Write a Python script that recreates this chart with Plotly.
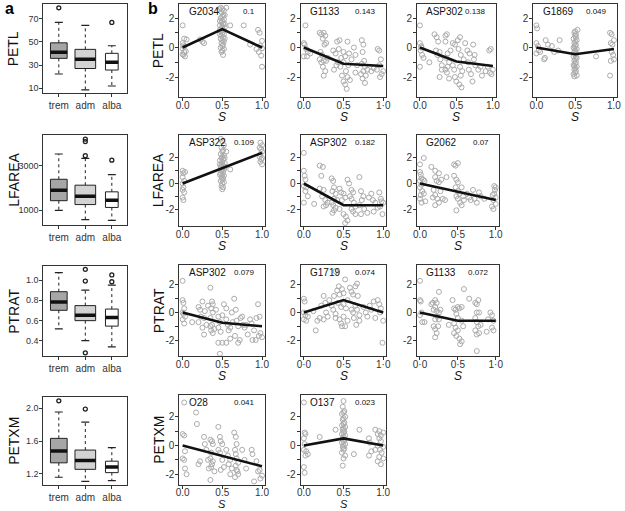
import plotly.graph_objects as go

W, H = 625, 511
FONT = "Liberation Sans, Arial, Helvetica, sans-serif"

# ---------------- Panel a: box plot summaries ----------------
groups = ["trem", "adm", "alba"]
group_width = [0.63, 0.78, 0.48]
group_fill = ["#a6a6a6", "#d3d3d3", "#ffffff"]

petl_low = [22.3, 8.6, 12.0]
petl_q1 = [35.7, 27.0, 25.7]
petl_med = [40.9, 34.9, 32.3]
petl_q3 = [49.0, 43.4, 40.0]
petl_high = [66.5, 64.0, 46.5]
petl_out = [[79.0], [], [66.5]]

lfarea_low = [980, 570, 530]
lfarea_q1 = [1420, 1245, 1115]
lfarea_med = [1892, 1620, 1445]
lfarea_q3 = [2387, 2120, 1820]
lfarea_high = [3527, 3330, 2600]
lfarea_out = [[], [4200, 4090, 3450], [3250]]

ptrat_low = [0.52, 0.403, 0.342]
ptrat_q1 = [0.702, 0.600, 0.546]
ptrat_med = [0.784, 0.652, 0.632]
ptrat_q3 = [0.885, 0.748, 0.714]
ptrat_high = [1.072, 0.900, 0.950]
ptrat_out = [[], [1.105, 0.99, 0.283], [1.05, 0.983]]

petxm_low = [1.16, 1.11, 1.12]
petxm_q1 = [1.335, 1.256, 1.216]
petxm_med = [1.48, 1.364, 1.283]
petxm_q3 = [1.632, 1.49, 1.355]
petxm_high = [1.952, 1.83, 1.52]
petxm_out = [[2.087], [1.988], []]

# ---------------- Panel b: scatter data (S, effect) ----------------
S_fit = [0, 0.5, 1]

petl_g2034 = [(0,1.5),(0.02,0.6),(0.05,0.55),(0,0.3),(0.01,0.15),(0,-0.05),(0.02,-0.3),(0,-0.45),(0.03,-0.6),(0.01,-0.5),(0.04,-0.25),(0.02,0.05),
    (0.22,0.55),(0.25,0.4),(0.27,0.3),
    (0.48,2.7),(0.5,2.6),(0.52,2.5),(0.49,2.4),(0.51,2.2),(0.5,2.1),(0.48,2.0),(0.52,1.9),(0.5,1.8),(0.49,1.7),(0.51,1.6),(0.47,1.5),(0.5,1.4),(0.53,1.35),
    (0.49,1.3),(0.51,1.2),(0.48,1.1),(0.5,1.0),(0.52,0.9),(0.49,0.8),(0.51,0.7),(0.48,0.6),(0.5,0.5),(0.52,0.4),(0.49,0.3),(0.51,0.2),(0.5,0.1),
    (0.48,0.0),(0.52,-0.1),(0.5,-0.2),(0.49,-0.3),(0.51,-0.5),(0.47,1.8),(0.53,2.2),(0.47,0.9),(0.53,0.6),(0.55,2.7),(0.46,2.6),(0.53,1.6),(0.47,1.2),
    (0.6,1.5),(0.77,1.5),(0.85,0.2),(0.95,1.2),(0.97,1.0),(1.0,0.45),(0.98,0.1),(1.0,-0.05),(0.96,-0.3),(0.99,-0.55),(1.0,-1.3),(0.93,-0.1)]
petl_g2034_fit = [0, 1.25, 0]

petl_g1133 = [(0.02,1.5),(0,0.3),(0.01,0.2),(0.03,-0.1),(0.05,-0.3),(0,-0.6),(0.04,-0.6),(0.08,-0.4),
    (0.2,1.0),(0.22,0.9),(0.25,1.0),(0.27,0.8),(0.24,0.6),(0.28,0.3),(0.26,0.2),(0.21,-0.3),(0.23,-0.5),(0.2,-0.8),(0.25,-0.9),(0.22,-1.0),(0.28,-0.9),(0.24,-1.3),(0.27,-1.6),(0.25,-1.9),(0.3,-0.7),
    (0.37,-0.2),(0.4,-0.4),(0.42,0.4),(0.45,0.5),(0.44,-0.1),(0.38,-1.5),(0.41,-1.2),(0.43,-1.0),(0.46,-1.3),(0.47,-0.7),
    (0.5,-0.3),(0.52,-0.6),(0.55,0.4),(0.57,-0.4),(0.5,-1.0),(0.53,-1.6),(0.55,-2.0),(0.5,-2.3),(0.52,-2.5),(0.54,-2.8),(0.48,-1.9),(0.56,-1.2),(0.6,-0.8),(0.58,-2.2),
    (0.63,0.0),(0.65,-0.5),(0.67,-1.2),(0.65,-1.7),
    (0.73,0.5),(0.75,0.2),(0.74,-0.3),(0.76,-0.9),(0.73,-1.1),(0.77,-1.3),(0.75,-1.6),(0.78,-1.9),(0.74,-2.1),(0.77,-2.4),(0.8,-1.5),(0.72,-1.8),
    (0.85,-1.6),(0.88,-1.4),(0.93,-0.1),(0.95,-0.2),(0.97,-0.8),(0.95,-1.2),(0.98,-1.8),(0.96,-2.0),(1.0,-1.6),(0.92,-1.5)]
petl_g1133_fit = [0, -1.1, -1.25]

petl_asp302 = [(0,1.5),(0,0.3),(0.02,0.1),(0.01,-0.2),(0.03,-0.5),(0.05,-0.7),(0,-1.3),(0.02,0.0),
    (0.13,-1.0),(0.2,0.9),(0.23,0.7),(0.25,0.4),(0.22,-0.2),(0.24,-0.5),(0.27,-0.3),(0.28,-0.8),(0.3,-1.2),(0.27,-2.0),(0.3,-1.5),
    (0.35,0.8),(0.37,0.9),(0.35,0.4),(0.38,-0.4),(0.36,-0.7),(0.4,-1.0),(0.38,-1.3),(0.37,-1.7),(0.4,-2.1),(0.35,-1.5),(0.42,-0.2),
    (0.45,0.3),(0.48,0.2),(0.45,-1.2),(0.47,-1.5),(0.5,-2.3),(0.48,-2.0),
    (0.52,0.5),(0.55,0.7),(0.53,-0.1),(0.56,-0.5),(0.55,-1.3),(0.58,-1.6),(0.56,-1.9),(0.54,-2.5),(0.57,-2.7),(0.6,-0.8),(0.62,0.3),
    (0.65,-0.2),(0.68,-0.4),(0.66,-1.0),(0.67,-1.5),(0.7,-1.8),(0.72,-2.3),
    (0.73,0.2),(0.75,-0.5),(0.74,-0.8),(0.76,-1.2),(0.8,-1.5),(0.83,-1.3),(0.85,-1.9),
    (0.9,-1.6),(0.93,-1.3),(0.95,-0.2),(0.97,-0.1),(0.96,-1.7),(0.98,-1.8),(1.0,-1.5)]
petl_asp302_fit = [0, -0.95, -1.25]

petl_g1869 = [(0,1.5),(0.01,1.3),(0,0.3),(0.02,0.1),(0.03,-0.2),(0,-0.4),(0.05,-0.3),(0.1,-0.8),(0.11,-0.7),(0.12,0.5),(0.15,0.2),(0.2,0.1),(0.23,-0.3),(0.3,0.5),(0.28,-0.2),
    (0.53,1.2),(0.5,1.1),(0.49,1.0),(0.51,0.9),(0.5,0.8),(0.48,0.6),(0.52,0.5),(0.5,0.4),(0.49,0.3),(0.51,0.2),(0.5,0.1),(0.48,0.0),(0.52,-0.1),
    (0.5,-0.2),(0.49,-0.3),(0.51,-0.4),(0.5,-0.5),(0.48,-0.6),(0.52,-0.7),(0.5,-0.8),(0.49,-0.9),(0.51,-1.0),(0.5,-1.1),(0.48,-1.2),(0.52,-1.3),
    (0.5,-1.4),(0.49,-1.5),(0.51,-1.6),(0.5,-1.7),(0.48,-1.8),(0.52,-1.9),(0.49,-1.95),(0.51,0.7),(0.49,-0.05),(0.51,-0.65),(0.49,-1.25),
    (0.77,-0.6),(0.95,1.0),(0.97,0.9),(0.96,0.3),(0.98,0.2),(0.97,-0.3),(0.99,-0.5),(1.0,-0.8),(0.96,-0.9),(0.95,-1.9),(1.0,0.5)]
petl_g1869_fit = [0, -0.45, -0.1]

lfarea_asp322 = [(0,1.0),(0.01,0.8),(0,0.5),(0.02,0.2),(0,0.0),(0.01,-0.3),(0,-0.5),(0.02,-0.7),(0,-1.1),(0.01,-1.3),(0.03,0.9),
    (0.48,3.5),(0.5,3.3),(0.52,3.0),(0.49,2.8),(0.51,2.6),(0.5,2.5),(0.48,2.3),(0.52,2.2),(0.5,2.1),(0.49,2.0),(0.51,1.9),(0.47,1.8),(0.5,1.7),
    (0.53,1.6),(0.49,1.5),(0.51,1.4),(0.48,1.3),(0.5,1.2),(0.52,1.1),(0.49,1.0),(0.51,0.9),(0.48,0.8),(0.5,0.7),(0.52,0.6),(0.49,0.5),(0.51,0.4),
    (0.5,0.3),(0.48,0.2),(0.52,0.1),(0.5,0.0),(0.49,-0.2),(0.51,-0.3),(0.5,-0.45),(0.47,1.5),(0.53,1.3),(0.47,0.7),(0.53,2.0),(0.6,1.1),(0.55,2.5),
    (0.98,3.2),(1.0,3.0),(0.97,2.8),(0.99,2.7),(1.0,2.5),(0.98,2.3),(0.97,2.1),(1.0,2.0),(0.99,1.9),(0.98,1.7),(1.0,1.5)]
lfarea_asp322_fit = [0, 1.2, 2.4]

lfarea_asp302 = [(0,2.4),(0,1.0),(0.01,0.6),(0.02,0.3),(0,-0.2),(0.03,-0.3),(0.05,-1.0),(0,-1.5),(0.02,-0.6),
    (0.13,-1.6),(0.2,1.4),(0.24,1.3),(0.22,0.6),(0.2,-0.4),(0.25,-0.5),(0.23,-1.0),(0.27,-1.3),(0.28,-1.7),(0.25,-1.8),(0.3,-1.5),
    (0.35,0.4),(0.37,0.2),(0.38,-0.3),(0.36,-0.6),(0.4,-0.8),(0.38,-1.2),(0.35,-1.5),(0.37,-1.7),(0.4,-1.9),(0.38,-2.1),(0.36,-2.3),(0.42,-1.3),
    (0.45,-0.4),(0.47,-0.7),(0.5,-0.8),(0.48,-1.3),(0.52,-1.1),(0.45,-2.0),(0.5,-2.4),(0.53,-2.6),(0.55,-2.9),(0.52,-3.1),
    (0.55,0.3),(0.57,0.0),(0.6,-0.5),(0.62,-0.7),(0.58,-1.0),(0.6,-1.2),(0.63,-1.5),(0.65,-1.8),(0.6,-2.0),(0.65,-2.4),(0.62,-2.2),
    (0.7,0.5),(0.72,-0.6),(0.75,-1.0),(0.73,-1.3),(0.7,-1.7),(0.76,-2.0),(0.72,-2.4),(0.8,-2.3),
    (0.82,-1.1),(0.85,-0.8),(0.87,-1.3),(0.9,-1.5),(0.88,-2.2),
    (0.95,-0.7),(0.97,-1.2),(0.98,-1.4),(1.0,-1.5),(0.96,-1.8),(0.99,-2.4),(0.93,-1.9)]
lfarea_asp302_fit = [0, -1.7, -1.7]

lfarea_g2062 = [(0,1.5),(0.05,2.0),(0,0.9),(0.01,0.7),(0.02,0.4),(0,0.2),(0.04,0.3),(0.06,0.2),(0.02,-0.1),(0,-0.3),(0.03,-0.6),(0.05,-0.8),(0,-1.2),(0.02,-1.5),(0.07,-1.4),(0.01,-0.9),
    (0.15,1.3),(0.2,1.0),(0.25,0.8),(0.2,0.5),(0.22,0.2),(0.25,0.1),(0.28,0.3),(0.18,-0.5),(0.2,-0.9),(0.17,-1.1),(0.23,-1.2),(0.2,-1.7),(0.25,-1.5),(0.3,-1.2),(0.27,-0.6),(0.35,0.5),(0.33,-1.3),
    (0.45,1.5),(0.47,1.4),(0.5,1.6),(0.45,0.6),(0.48,0.3),(0.5,0.1),(0.47,-0.3),(0.5,-0.6),(0.52,-0.8),(0.48,-1.0),(0.5,-1.2),(0.53,-1.5),(0.48,-2.1),(0.55,-0.3),(0.57,-1.0),(0.55,-1.7),(0.58,-1.3),
    (0.62,-0.8),(0.65,-1.1),(0.67,-1.3),(0.7,-0.5),(0.72,-1.2),(0.75,-1.5),(0.78,-0.7),(0.8,-1.0),(0.85,-1.2),
    (0.95,-1.8),(0.97,-2.0),(1.0,-0.3),(0.99,-0.5),(0.98,-0.8),(1.0,-1.1),(0.97,-1.3),(1.0,-1.6),(0.98,-0.2),(0.96,-0.9)]
lfarea_g2062_fit = [0, -0.65, -1.3]

ptrat_asp302 = [(0,2.3),(0,0.9),(0.01,0.7),(0.02,0.3),(0,0.0),(0.03,-0.3),(0,-0.5),(0.02,-0.8),(0.01,-0.1),
    (0.12,-0.7),(0.2,0.4),(0.22,0.2),(0.25,0.8),(0.23,-0.3),(0.2,-0.7),(0.27,-0.4),(0.28,0.1),(0.25,-1.1),(0.27,-1.6),(0.3,-0.9),(0.32,0.5),
    (0.35,1.8),(0.37,0.8),(0.38,0.6),(0.36,0.3),(0.38,0.0),(0.35,-0.4),(0.37,-0.9),(0.4,-1.2),(0.36,-1.3),(0.38,-1.5),(0.35,-1.0),(0.42,0.2),
    (0.45,-0.3),(0.47,-0.7),(0.45,-1.1),(0.48,-1.4),(0.5,-2.2),(0.45,-2.2),(0.47,-3.0),(0.5,-0.2),
    (0.52,0.6),(0.55,0.3),(0.55,-0.5),(0.57,-0.9),(0.6,-1.1),(0.58,-1.3),(0.55,-2.2),(0.6,-1.9),(0.62,0.0),(0.63,-0.7),
    (0.65,1.0),(0.67,0.2),(0.68,-0.6),(0.7,-1.0),(0.66,-1.7),(0.72,-2.0),(0.7,-2.2),
    (0.73,-0.4),(0.75,-0.3),(0.76,-0.9),(0.78,-1.1),(0.8,-0.9),(0.82,-1.6),(0.85,-0.5),(0.87,-0.8),(0.9,-1.3),(0.88,-2.0),
    (0.93,-0.4),(0.95,0.6),(0.97,-0.3),(0.96,-1.7),(0.98,-1.5),(1.0,-1.8),(0.92,-2.0)]
ptrat_asp302_fit = [0, -0.75, -1.0]

ptrat_g1719 = [(0,1.0),(0.01,0.8),(0,0.0),(0.02,-0.2),(0,-0.5),(0.03,-0.6),(0.05,-0.3),
    (0.12,0.1),(0.15,-1.3),(0.17,-0.6),(0.2,-0.4),(0.22,0.5),(0.25,1.2),(0.27,0.7),(0.28,0.0),(0.25,-0.5),(0.3,-0.3),(0.32,0.9),
    (0.35,0.5),(0.38,1.2),(0.37,0.2),(0.4,-0.1),(0.42,1.6),(0.43,0.7),(0.45,-0.5),(0.4,-0.4),(0.44,1.9),(0.45,1.3),(0.47,0.4),
    (0.48,1.7),(0.5,1.4),(0.52,2.4),(0.5,0.6),(0.53,0.3),(0.5,-0.3),(0.47,-0.8),(0.52,-1.0),(0.48,-1.0),(0.55,-0.6),(0.55,0.9),
    (0.58,1.8),(0.6,1.5),(0.62,1.3),(0.6,0.2),(0.62,0.0),(0.63,-0.4),(0.65,1.9),(0.67,2.1),(0.68,1.2),(0.65,0.5),(0.67,0.2),(0.7,-0.2),(0.66,-0.9),(0.7,-0.6),(0.4,3.0),
    (0.75,0.4),(0.78,0.0),(0.8,-0.3),(0.83,0.5),(0.85,0.2),(0.88,0.8),(0.9,-0.4),(0.93,0.9),(0.95,0.6),(0.97,0.3),(1.0,-0.6),(0.99,-2.2),(0.96,0.0)]
ptrat_g1719_fit = [0, 0.9, 0]

ptrat_g1133 = [(0,2.3),(0,0.9),(0.01,0.8),(0.02,0.0),(0,-0.2),(0.03,-0.7),(0.06,-0.7),
    (0.15,0.6),(0.17,0.7),(0.2,0.9),(0.22,0.7),(0.2,0.4),(0.18,0.2),(0.22,0.1),(0.25,0.0),(0.23,-0.3),(0.2,-0.5),(0.25,-0.5),(0.18,-1.0),(0.2,-1.2),(0.22,-1.5),(0.2,-1.8),(0.25,1.5),(0.27,0.2),(0.24,-1.0),
    (0.38,-0.9),(0.43,0.9),(0.45,0.3),(0.47,0.2),(0.5,0.4),(0.52,0.3),(0.55,0.4),(0.48,-0.1),(0.5,-0.4),(0.45,-0.8),(0.47,-1.1),(0.5,-1.3),(0.45,-1.5),(0.48,-1.7),(0.52,-1.9),(0.55,-2.1),(0.53,-2.3),(0.57,-1.0),(0.55,-0.6),(0.58,1.7),(0.65,1.0),
    (0.73,0.7),(0.75,0.6),(0.77,0.9),(0.75,0.0),(0.73,-0.4),(0.75,-0.7),(0.77,-1.0),(0.73,-1.3),(0.75,-1.6),(0.78,-1.5),(0.8,-0.9),(0.75,-2.8),(0.78,0.0),
    (0.88,-1.4),(0.93,0.0),(0.95,-0.2),(0.97,-0.6),(0.95,-1.1),(0.97,-1.3),(0.9,-0.5)]
ptrat_g1133_fit = [0, -0.6, -0.6]

petxm_o28 = [(0.02,3.0),(0,0.8),(0.02,0.7),(0.03,-0.4),(0,-0.9),(0.02,-1.0),(0.03,-1.6),(0.05,-2.0),
    (0.17,2.3),(0.18,1.5),(0.2,-1.3),(0.22,-1.1),(0.27,0.6),(0.28,0.1),(0.3,-0.3),(0.32,-1.0),
    (0.35,0.4),(0.37,0.3),(0.38,0.1),(0.36,-0.5),(0.35,-0.9),(0.38,-1.1),(0.36,-1.5),(0.4,-1.8),(0.35,-2.4),(0.37,-1.3),(0.33,-1.6),
    (0.45,1.3),(0.47,0.6),(0.48,0.3),(0.5,0.1),(0.47,-0.5),(0.5,-1.0),(0.52,-1.5),(0.48,-1.7),(0.45,-0.3),
    (0.55,-0.3),(0.57,-0.7),(0.6,-1.0),(0.58,-1.3),(0.62,-1.6),(0.6,-2.0),
    (0.65,0.9),(0.67,0.6),(0.68,0.1),(0.66,-0.3),(0.67,-0.6),(0.68,-0.9),(0.7,-1.2),(0.67,-1.4),(0.68,-1.7),(0.7,-2.0),(0.66,-2.2),(0.69,-1.8),
    (0.75,-0.3),(0.78,-1.0),(0.8,-1.6),(0.87,-0.3),(0.88,-0.6),(0.9,-2.5),(0.93,-1.1),(0.95,-1.8),(0.97,-1.7),(1.0,-2.1),(0.98,-2.3)]
petxm_o28_fit = [0, -0.7, -1.45]

petxm_o137 = [(0,3.0),(0.01,0.9),(0.02,0.8),(0,0.5),(0.01,0.1),(0.03,-0.4),(0,-0.3),(0.02,-0.7),(0,-1.5),(0.01,-1.9),(0.05,-0.6),
    (0.2,0.6),(0.4,1.1),
    (0.5,3.1),(0.49,2.7),(0.51,2.4),(0.5,2.3),(0.48,2.2),(0.52,2.0),(0.5,1.9),(0.49,1.8),(0.51,1.6),(0.5,1.5),(0.48,1.4),(0.52,1.3),(0.5,1.2),
    (0.49,1.1),(0.51,1.0),(0.5,0.9),(0.48,0.8),(0.52,0.7),(0.5,0.6),(0.49,0.5),(0.51,0.4),(0.5,0.3),(0.48,0.2),(0.52,0.1),(0.5,0.0),(0.49,-0.1),
    (0.51,-0.2),(0.5,-0.3),(0.48,-0.5),(0.52,-0.7),(0.5,-0.9),(0.49,-1.4),
    (0.63,-0.6),(0.7,1.1),
    (0.82,0.5),(0.83,0.2),(0.85,-0.4),(0.82,-0.7),(0.9,1.1),(0.95,1.0),(0.93,0.8),(0.97,0.7),(1.0,0.9),(0.95,0.5),(0.97,0.3),(0.93,0.0),(1.0,-0.1),(0.96,-0.3),(0.98,-0.5),(0.95,-0.8),(1.0,-0.9),(0.93,-1.1),(0.97,-1.3),(0.9,-0.3)]
petxm_o137_fit = [0, 0.5, 0]

traits = ["PETL", "LFAREA", "PTRAT", "PETXM"]

# ---------------- layout geometry (pixels) ----------------
row_px = [(4, 97), (135, 226), (265, 356), (395, 485)]
box_px = [(4, 93), (135, 225), (266, 356), (397, 485)]
box_col = (40, 125)
col_px = [(178, 265), (301, 388), (419, 502), (537, 622)]

def xdom(a, b):
    return [a / W, b / W]

def ydom(top, bot):
    return [1 - bot / H, 1 - top / H]

fig = go.Figure()
layout = dict(width=W, height=H, margin=dict(l=0, r=0, t=0, b=0),
              paper_bgcolor="white", plot_bgcolor="white", showlegend=False,
              font=dict(family=FONT, size=10, color="#222"))
annotations = []

axis_common = dict(showline=True, mirror=True, linecolor="#333", linewidth=1,
                   ticks="outside", ticklen=3, tickcolor="#333", showgrid=False,
                   zeroline=False, tickfont=dict(size=10, color="#333"), fixedrange=True)

def axname(i, k):
    return k if i == 1 else f"{k}{i}"

def refname(i, k):
    return k if i == 1 else f"{k}{i}"

# ---------------- box panels ----------------
box_sets = [
    (petl_low, petl_q1, petl_med, petl_q3, petl_high, petl_out, [6, 82.3], [10, 30, 50, 70], ["10", "30", "50", "70"]),
    (lfarea_low, lfarea_q1, lfarea_med, lfarea_q3, lfarea_high, lfarea_out, [323, 4385], [1000, 3000], ["1000", "3000"]),
    (ptrat_low, ptrat_q1, ptrat_med, ptrat_q3, ptrat_high, ptrat_out, [0.252, 1.138], [0.4, 0.6, 0.8, 1.0], ["0.4", "0.6", "0.8", "1.0"]),
    (petxm_low, petxm_q1, petxm_med, petxm_q3, petxm_high, petxm_out, [1.066, 2.134], [1.2, 1.6, 2.0], ["1.2", "1.6", "2.0"]),
]

ax = 0
for r, (lo, q1, med, q3, hi, outs, yr, tv, tt) in enumerate(box_sets):
    ax += 1
    xa, ya = refname(ax, "x"), refname(ax, "y")
    layout[axname(ax, "xaxis")] = dict(axis_common, domain=xdom(*box_col), range=[0.42, 3.58],
                                       tickvals=[1, 2, 3], ticktext=groups, anchor=ya,
                                       ticklabelstandoff=0)
    layout[axname(ax, "yaxis")] = dict(axis_common, domain=ydom(*box_px[r]), range=yr,
                                       tickvals=tv, ticktext=tt, anchor=xa, ticklabelstandoff=-1,
                                       tickfont=dict(size=9, color="#333"))
    for j in range(3):
        p = j + 1
        w = group_width[j]
        fig.add_trace(go.Scatter(x=[p - w / 2, p + w / 2, p + w / 2, p - w / 2, p - w / 2],
                                 y=[q1[j], q1[j], q3[j], q3[j], q1[j]], mode="lines",
                                 fill="toself", fillcolor=group_fill[j],
                                 line=dict(color="#222", width=1), xaxis=xa, yaxis=ya, hoverinfo="skip"))
        fig.add_trace(go.Scatter(x=[p, p, None, p, p], y=[q3[j], hi[j], None, q1[j], lo[j]], mode="lines",
                                 line=dict(color="#222", width=1, dash="3px,3px"), xaxis=xa, yaxis=ya, hoverinfo="skip"))
        c = 0.15
        fig.add_trace(go.Scatter(x=[p - c, p + c, None, p - c, p + c], y=[hi[j], hi[j], None, lo[j], lo[j]],
                                 mode="lines", line=dict(color="#222", width=1.2), xaxis=xa, yaxis=ya, hoverinfo="skip"))
        fig.add_trace(go.Scatter(x=[p - w / 2, p + w / 2], y=[med[j], med[j]], mode="lines",
                                 line=dict(color="#111", width=3.5), xaxis=xa, yaxis=ya, hoverinfo="skip"))
        if outs[j]:
            fig.add_trace(go.Scatter(x=[p] * len(outs[j]), y=outs[j], mode="markers",
                                     marker=dict(symbol="circle-open", size=4, color="#222", line=dict(width=1.3)),
                                     xaxis=xa, yaxis=ya, hoverinfo="skip"))
    top, bot = box_px[r]
    annotations.append(dict(text=traits[r], x=10 / W, y=1 - ((top + bot) / 2) / H, xref="paper", yref="paper",
                            textangle=-90, showarrow=False, font=dict(size=14, color="#111"),
                            xanchor="center", yanchor="middle"))

# ---------------- scatter panels ----------------
scatter_sets = [
    # row, col, name, value, data, fit, ticktext
    (0, 0, "G2034", "0.1", petl_g2034, petl_g2034_fit, ["0.0", "0.5", "1.0"]),
    (0, 1, "G1133", "0.143", petl_g1133, petl_g1133_fit, ["0.0", "0.5", "1\u00b70"]),
    (0, 2, "ASP302", "0.138", petl_asp302, petl_asp302_fit, ["0.0", "0.5", "1.0"]),
    (0, 3, "G1869", "0.049", petl_g1869, petl_g1869_fit, ["0.0", "0.5", "1.0"]),
    (1, 0, "ASP322", "0.109", lfarea_asp322, lfarea_asp322_fit, ["0.0", "0.5", "1.0"]),
    (1, 1, "ASP302", "0.182", lfarea_asp302, lfarea_asp302_fit, ["0.0", "0.5", "1.0"]),
    (1, 2, "G2062", "0.07", lfarea_g2062, lfarea_g2062_fit, ["0.0", "0\u00b75", "1.0"]),
    (2, 0, "ASP302", "0.079", ptrat_asp302, ptrat_asp302_fit, ["0.0", "0.5", "1.0"]),
    (2, 1, "G1719", "0.074", ptrat_g1719, ptrat_g1719_fit, ["0\u00b70", "0\u00b75", "1\u00b70"]),
    (2, 2, "G1133", "0.072", ptrat_g1133, ptrat_g1133_fit, ["0\u00b70", "0\u00b75", "1\u00b70"]),
    (3, 0, "O28", "0.041", petxm_o28, petxm_o28_fit, ["0.0", "0.5", "1.0"]),
    (3, 1, "O137", "0.023", petxm_o137, petxm_o137_fit, ["0.0", "0.5", "1.0"]),
]
row_ranges = [[-3.35, 2.95], [-3.33, 3.8], [-3.16, 3.45], [-2.75, 3.52]]

for (r, c, name, val, pts, fit, ttext) in scatter_sets:
    ax += 1
    xa, ya = refname(ax, "x"), refname(ax, "y")
    cx = col_px[c]
    if r == 0 and c == 2:
        cx = (419, 499)
    top, bot = row_px[r]
    last = (r == 3)
    layout[axname(ax, "xaxis")] = dict(axis_common, domain=xdom(*cx), range=[-0.04, 1.04],
                                       tickvals=[0, 0.5, 1], ticktext=ttext, anchor=ya,
                                       ticklabelstandoff=-5 if last else -4)
    layout[axname(ax, "yaxis")] = dict(axis_common, domain=ydom(top, bot), range=row_ranges[r],
                                       tickvals=[-2, -1, 0, 1, 2], ticktext=["-2", "", "0", "", "2"], anchor=xa,
                                       ticklabelstandoff=-1)
    fig.add_trace(go.Scatter(x=[p[0] for p in pts], y=[p[1] for p in pts], mode="markers",
                             marker=dict(symbol="circle-open", size=5, color="#ababab", line=dict(width=1)),
                             xaxis=xa, yaxis=ya, hoverinfo="skip"))
    fig.add_trace(go.Scatter(x=S_fit, y=fit, mode="lines", line=dict(color="#111", width=2.6),
                             xaxis=xa, yaxis=ya, hoverinfo="skip"))
    annotations.append(dict(text=name, x=0.09, y=0.995, xref=f"{xa} domain", yref=f"{ya} domain",
                            xanchor="left", yanchor="top", showarrow=False, font=dict(size=10, color="#111")))
    annotations.append(dict(text=val, x=0.9, y=0.985, xref=f"{xa} domain", yref=f"{ya} domain",
                            xanchor="right", yanchor="top", showarrow=False, font=dict(size=8, color="#111")))
    if last:
        annotations.append(dict(text="<i>S</i>", x=((cx[0] + cx[1]) / 2) / W, y=0,
                                xref="paper", yref="paper", xanchor="center", yanchor="bottom",
                                showarrow=False, borderpad=0, font=dict(size=11, color="#111")))
    else:
        annotations.append(dict(text="<i>S</i>", x=((cx[0] + cx[1]) / 2) / W, y=1 - (bot + 20) / H,
                                xref="paper", yref="paper", xanchor="center", yanchor="middle",
                                showarrow=False, font=dict(size=12, color="#111")))
    if c == 0:
        annotations.append(dict(text=traits[r], x=157 / W, y=1 - ((top + bot) / 2) / H, xref="paper", yref="paper",
                                textangle=-90, showarrow=False, font=dict(size=14, color="#111"),
                                xanchor="center", yanchor="middle"))

annotations.append(dict(text="<b>a</b>", x=5.5 / W, y=1 - 9 / H, xref="paper", yref="paper", xanchor="center",
                        yanchor="middle", showarrow=False, font=dict(size=16, color="#000")))
annotations.append(dict(text="<b>b</b>", x=151.5 / W, y=1 - 9 / H, xref="paper", yref="paper", xanchor="center",
                        yanchor="middle", showarrow=False, font=dict(size=16, color="#000")))

layout["annotations"] = annotations
fig.update_layout(**layout)
fig.write_html("out.html", config={"displayModeBar": False},
               post_script="document.body.style.margin='0';document.body.style.overflow='hidden';")
